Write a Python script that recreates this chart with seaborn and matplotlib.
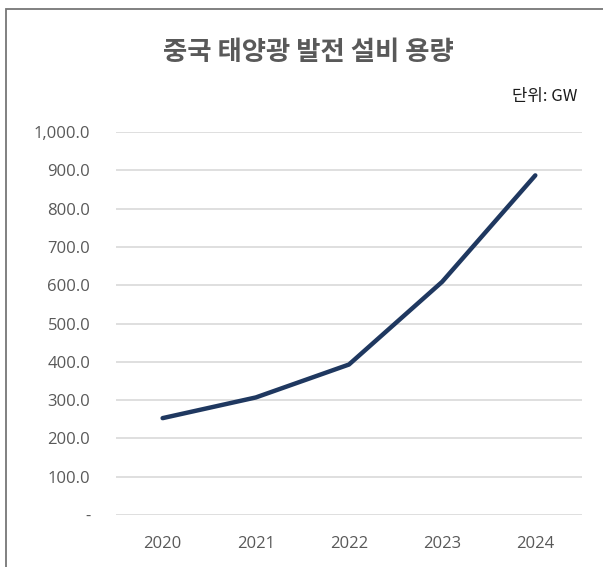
import pandas as pd
import numpy as np
import seaborn as sns
import matplotlib.pyplot as plt
from matplotlib.patches import Rectangle
from matplotlib.ticker import FuncFormatter

years = ['2020', '2021', '2022', '2023', '2024']
capacity_gw = [253, 307, 393, 609, 887]

df = pd.DataFrame({'year': years, 'capacity': capacity_gw})

sns.set_style('white')
plt.rcParams['font.family'] = ['Open Sans', 'Noto Sans CJK KR', 'DejaVu Sans']

fig = plt.figure(figsize=(6.03, 5.67), dpi=100)
ax = fig.add_axes([0.1924, 0.0917, 0.7726, 0.6753])

sns.lineplot(x='year', y='capacity', data=df, ax=ax, color='#1f3860',
             linewidth=3.2, sort=False)
ax.lines[0].set_solid_capstyle('round')

ax.set_xlim(-0.5, 4.5)
ax.set_ylim(0, 1000)
ax.set_yticks(np.arange(0, 1001, 100))
ax.yaxis.set_major_formatter(FuncFormatter(lambda v, p: '-' if v == 0 else f'{v:,.1f}'))
ax.grid(axis='y', color='#d9d9d9', linewidth=1.2)
ax.set_axisbelow(True)
for s in ax.spines.values():
    s.set_visible(False)
ax.tick_params(axis='both', length=0, labelsize=12, labelcolor='#595959')
ax.tick_params(axis='y', pad=18.5)
ax.tick_params(axis='x', pad=15)
ax.set_xlabel('')
ax.set_ylabel('')

fig.text(0.512, 0.908, '중국 태양광 발전 설비 용량', ha='center', va='center',
         fontsize=19, fontweight='bold', color='#595959', family='Noto Sans CJK KR')
fig.text(0.957, 0.829, '단위: GW', ha='right', va='center', fontsize=12, color='#1a1a1a',
         family='Noto Sans CJK KR')

fig.patches.append(Rectangle((0.01, -0.05), 1.2, 1.034, transform=fig.transFigure,
                             fill=False, edgecolor='#767676', linewidth=1.3))

fig.savefig('out.png', dpi=100)
